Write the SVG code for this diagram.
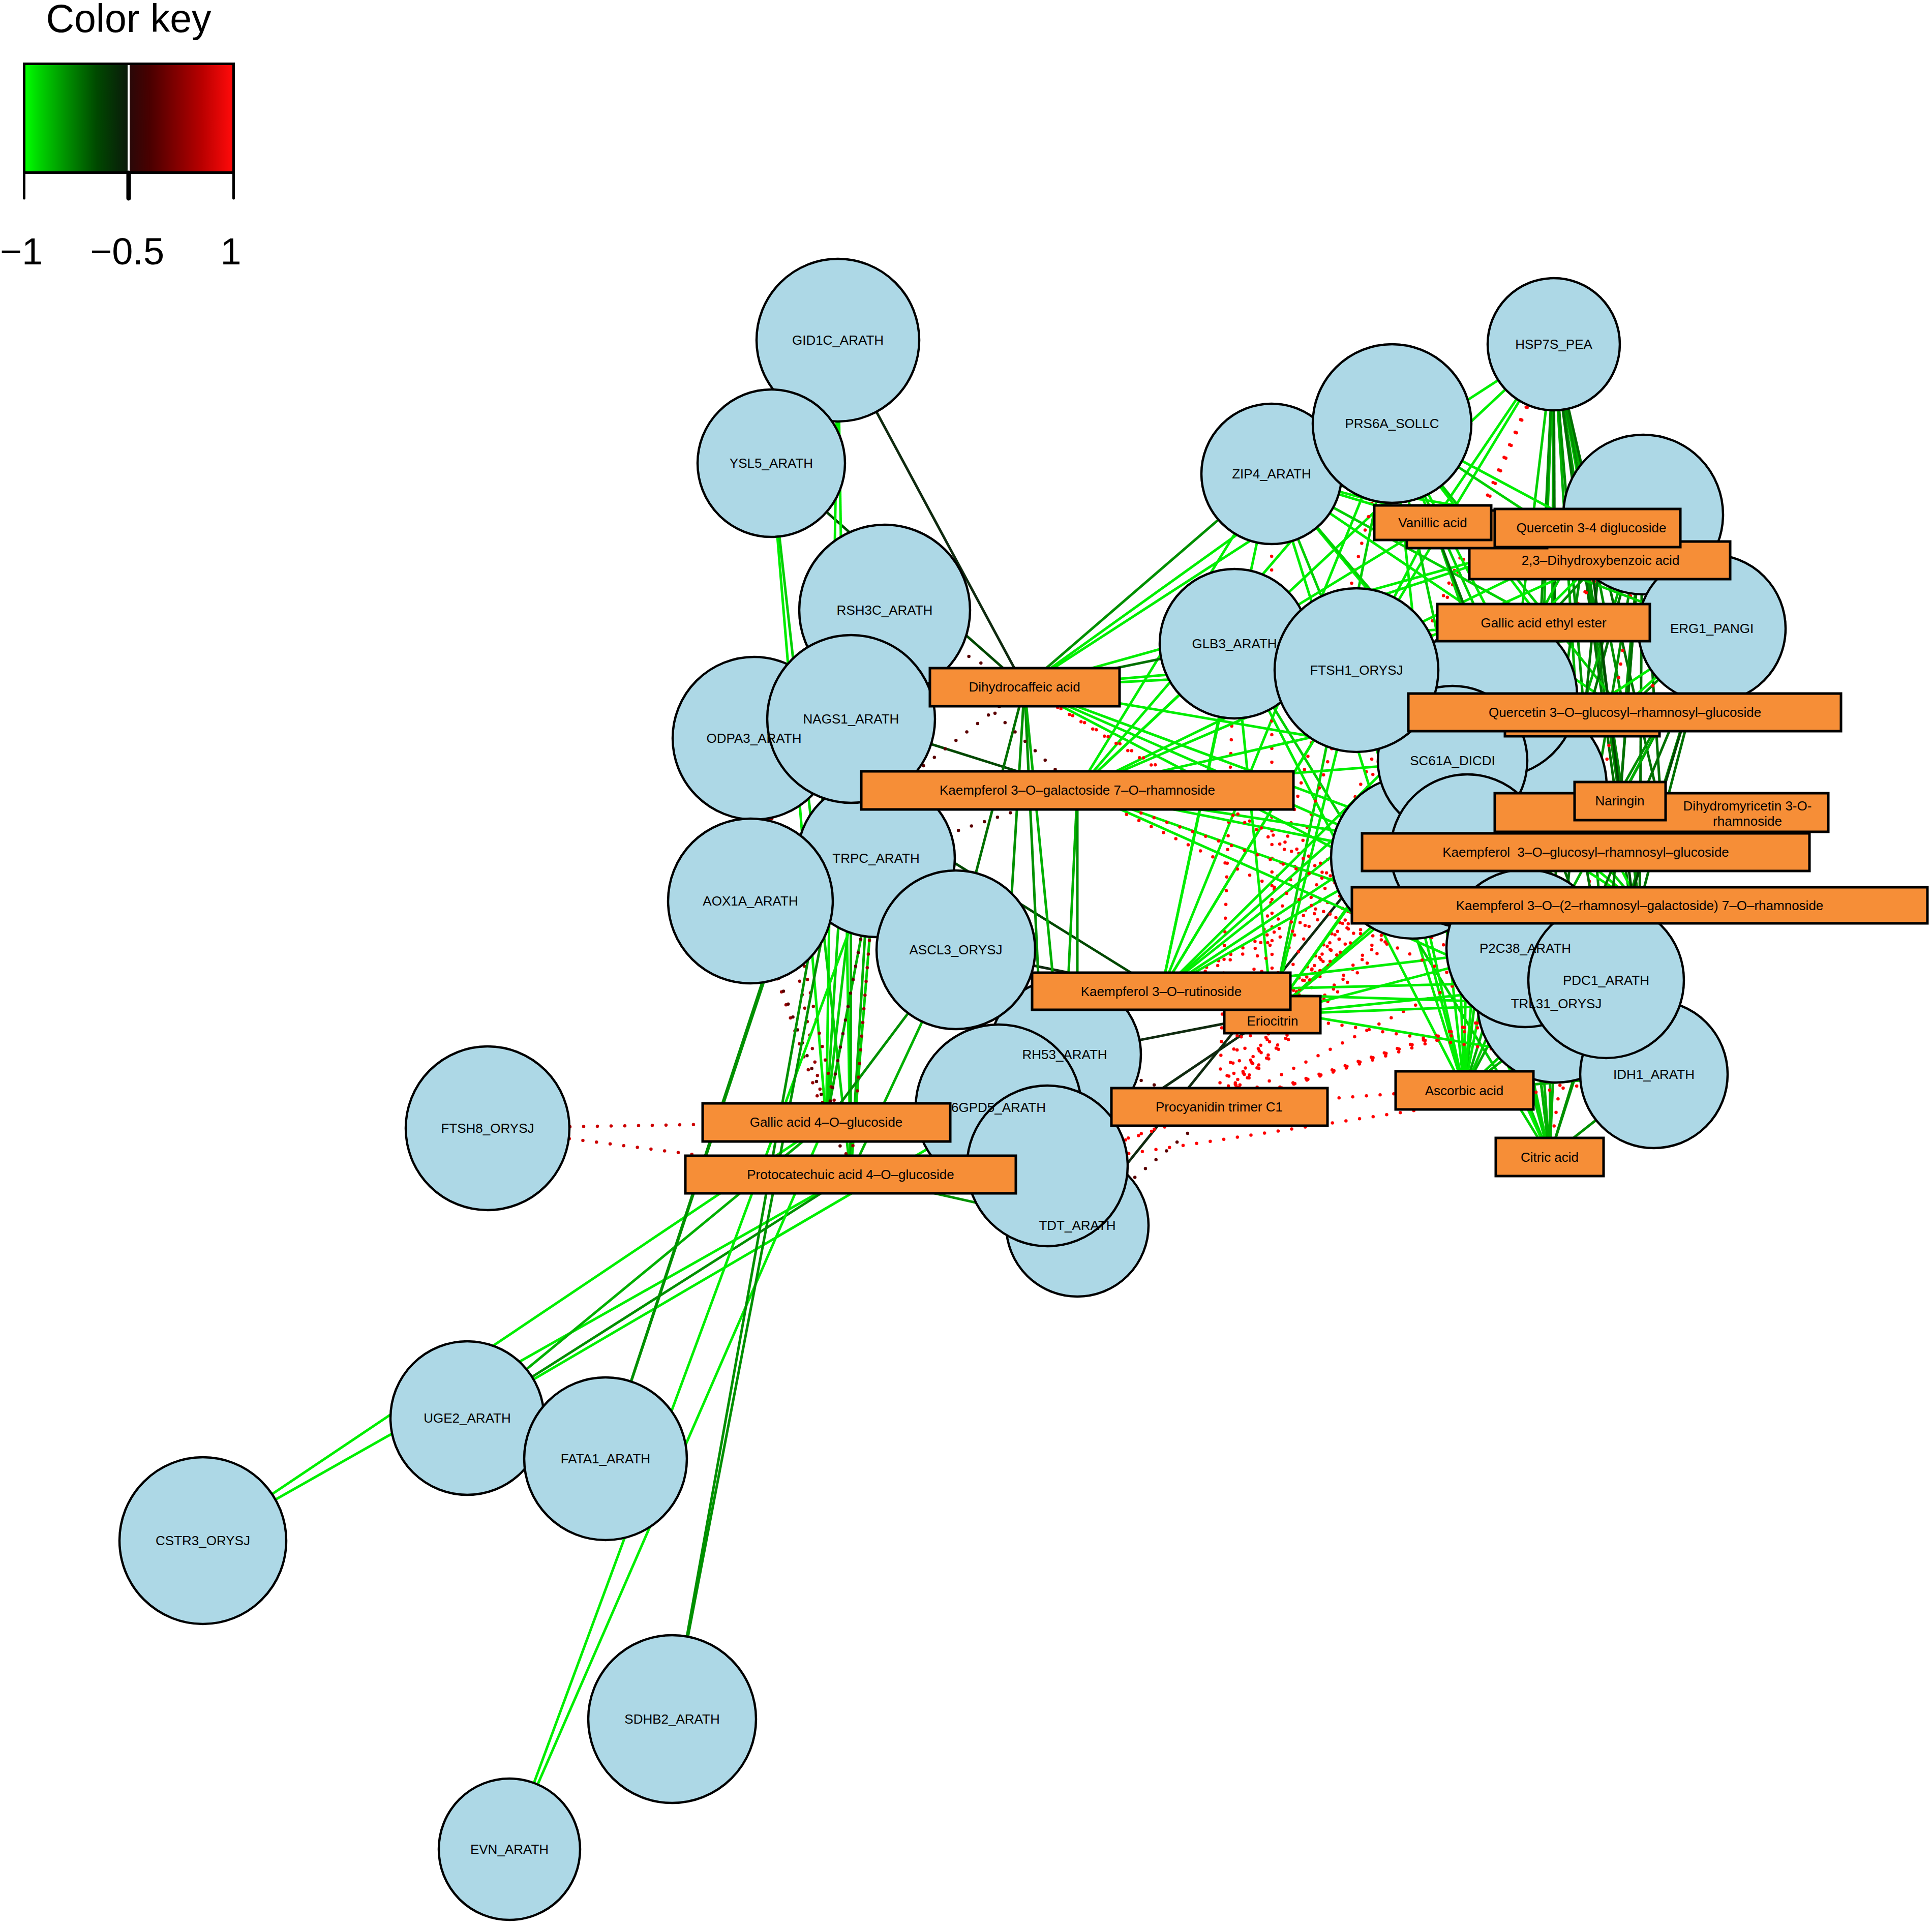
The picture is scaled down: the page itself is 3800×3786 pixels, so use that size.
<svg xmlns="http://www.w3.org/2000/svg" width="3800" height="3786" viewBox="0 0 3800 3786">
<defs>
<linearGradient id="kg" x1="0" y1="0" x2="1" y2="0">
<stop offset="0" stop-color="#00ff00"/><stop offset="0.15" stop-color="#00d000"/><stop offset="0.4" stop-color="#009000"/><stop offset="0.7" stop-color="#004800"/><stop offset="1" stop-color="#0a1a0a"/>
</linearGradient>
<linearGradient id="kr" x1="0" y1="0" x2="1" y2="0">
<stop offset="0" stop-color="#2a0808"/><stop offset="0.2" stop-color="#4a0000"/><stop offset="0.45" stop-color="#800000"/><stop offset="0.7" stop-color="#b80000"/><stop offset="1" stop-color="#ff0a0a"/>
</linearGradient>
</defs>
<style>
#edges line{stroke-width:5;fill:none}
#edges line.d{stroke-width:6.5;stroke-dasharray:0 27;stroke-linecap:round}
.g1{stroke:#00ee00}.g2{stroke:#00d000}.g3{stroke:#00b000}.g4{stroke:#009000}.g5{stroke:#007000}.g6{stroke:#004800}.g7{stroke:#0f2a0f}
.r1{stroke:#ff0000}.r2{stroke:#cc0000}.r3{stroke:#990000}.r4{stroke:#5a0000}
.p circle{fill:#add8e6;stroke:#000;stroke-width:4.5}
.m rect{fill:#f68e37;stroke:#000;stroke-width:5}
text{font-family:"Liberation Sans",Arial,Helvetica,sans-serif;font-size:26px;fill:#000;text-anchor:middle}
.key text{font-size:74px}
</style>
<rect width="3800" height="3786" fill="#fff"/>
<g id="color-key" class="key">
<text x="253" y="63" style="font-size:77px">Color key</text>
<rect x="50" y="128" width="201" height="209" fill="url(#kg)"/>
<rect x="255" y="128" width="202" height="209" fill="url(#kr)"/>
<rect x="47.5" y="125.5" width="412" height="214" fill="none" stroke="#000" stroke-width="5"/>
<g stroke="#000" stroke-linecap="round">
<line x1="47.5" y1="340" x2="47.5" y2="390" stroke-width="5"/>
<line x1="253" y1="340" x2="253" y2="390" stroke-width="9"/>
<line x1="459.5" y1="340" x2="459.5" y2="390" stroke-width="5"/>
</g>
<text x="42" y="520">−1</text>
<text x="250" y="520">−0.5</text>
<text x="454" y="520">1</text>
</g>
<g id="edges">
<line class="g7" x1="1648" y1="669" x2="2015" y2="1351"/>
<line class="g6" x1="1517" y1="911" x2="2015" y2="1351"/>
<line class="g1" x1="1648" y1="669" x2="1625" y2="2207"/>
<line class="g1" x1="1648" y1="669" x2="1673" y2="2310"/>
<line class="g1" x1="1517" y1="911" x2="1625" y2="2207"/>
<line class="g2" x1="1517" y1="911" x2="1673" y2="2310"/>
<line class="g2" x1="1740" y1="1200" x2="1625" y2="2207"/>
<line class="g3" x1="1740" y1="1200" x2="1673" y2="2310"/>
<line class="g2" x1="1674" y1="1414" x2="1625" y2="2207"/>
<line class="g3" x1="1674" y1="1414" x2="1673" y2="2310"/>
<line class="g3" x1="1723" y1="1688" x2="1625" y2="2207"/>
<line class="g2" x1="1723" y1="1688" x2="1673" y2="2310"/>
<line class="g6" x1="1674" y1="1414" x2="2119" y2="1554"/>
<line class="g6" x1="1483" y1="1452" x2="2284" y2="1950"/>
<line class="g7" x1="1880" y1="1868" x2="2284" y2="1950"/>
<line class="g4" x1="1625" y1="2207" x2="1880" y2="1868"/>
<line class="g3" x1="1673" y1="2310" x2="1880" y2="1868"/>
<line class="g4" x1="1673" y1="2310" x2="2119" y2="2410"/>
<line class="g5" x1="2015" y1="1351" x2="1880" y2="1868"/>
<line class="g4" x1="2015" y1="1351" x2="1964" y2="2178"/>
<line class="g4" x1="2015" y1="1351" x2="2060" y2="2293"/>
<line class="g3" x1="2015" y1="1351" x2="2119" y2="2410"/>
<line class="g3" x1="2119" y1="1554" x2="2094" y2="2074"/>
<line class="g4" x1="2119" y1="1554" x2="2119" y2="2410"/>
<line class="g7" x1="2094" y1="2074" x2="2502" y2="1995"/>
<line class="g7" x1="2857" y1="1496" x2="2119" y2="2410"/>
<line class="g7" x1="2502" y1="1995" x2="2060" y2="2293"/>
<line class="g4" x1="1625" y1="2207" x2="1964" y2="2178"/>
<line class="d r3" x1="1483" y1="1452" x2="1625" y2="2207"/>
<line class="d r3" x1="1483" y1="1452" x2="1673" y2="2310"/>
<line class="d r3" x1="1476" y1="1772" x2="1625" y2="2207"/>
<line class="d r4" x1="1476" y1="1772" x2="1673" y2="2310"/>
<line class="d r4" x1="1723" y1="1688" x2="1625" y2="2207"/>
<line class="d r3" x1="1723" y1="1688" x2="1673" y2="2310"/>
<line class="d r4" x1="1740" y1="1200" x2="2015" y2="1351"/>
<line class="d r4" x1="1740" y1="1200" x2="2119" y2="1554"/>
<line class="d r4" x1="1476" y1="1772" x2="2015" y2="1351"/>
<line class="d r4" x1="1476" y1="1772" x2="2119" y2="1554"/>
<line class="d r4" x1="2398" y1="2177" x2="2119" y2="2410"/>
<line class="d r4" x1="2398" y1="2177" x2="2094" y2="2074"/>
<line class="d r1" x1="2398" y1="2177" x2="2060" y2="2293"/>
<line class="d r2" x1="2398" y1="2177" x2="1964" y2="2178"/>
<line class="d r2" x1="959" y1="2219" x2="1625" y2="2207"/>
<line class="d r2" x1="959" y1="2219" x2="1673" y2="2310"/>
<line class="g1" x1="399" y1="3030" x2="1625" y2="2207"/>
<line class="g1" x1="399" y1="3030" x2="1673" y2="2310"/>
<line class="g3" x1="919" y1="2789" x2="1625" y2="2207"/>
<line class="g4" x1="919" y1="2789" x2="1673" y2="2310"/>
<line class="g1" x1="919" y1="2789" x2="1964" y2="2178"/>
<line class="g4" x1="1191" y1="2869" x2="1674" y2="1414"/>
<line class="g4" x1="1191" y1="2869" x2="1740" y2="1200"/>
<line class="g1" x1="1002" y1="3637" x2="1723" y2="1688"/>
<line class="g1" x1="1002" y1="3637" x2="1625" y2="2207"/>
<line class="g4" x1="1322" y1="3381" x2="1740" y2="1200"/>
<line class="g4" x1="1322" y1="3381" x2="1674" y2="1414"/>
<line class="g1" x1="3056" y1="677" x2="2818" y2="1028"/>
<line class="g2" x1="3056" y1="677" x2="3122" y2="1038"/>
<line class="g3" x1="3056" y1="677" x2="3146" y2="1101"/>
<line class="g3" x1="3056" y1="677" x2="3036" y2="1224"/>
<line class="g4" x1="3056" y1="677" x2="3195" y2="1401"/>
<line class="g4" x1="3056" y1="677" x2="3186" y2="1575"/>
<line class="g5" x1="3056" y1="677" x2="3268" y2="1598"/>
<line class="g3" x1="3056" y1="677" x2="3119" y2="1676"/>
<line class="g4" x1="3056" y1="677" x2="3225" y2="1780"/>
<line class="g2" x1="3056" y1="677" x2="2880" y2="2144"/>
<line class="g3" x1="3056" y1="677" x2="3048" y2="2275"/>
<line class="g1" x1="3056" y1="677" x2="2015" y2="1351"/>
<line class="g1" x1="3056" y1="677" x2="2119" y2="1554"/>
<line class="g1" x1="3056" y1="677" x2="2284" y2="1950"/>
<line class="d r1" x1="3056" y1="677" x2="2502" y2="1995"/>
<line class="d r1" x1="3056" y1="677" x2="2398" y2="2177"/>
<line class="g4" x1="3056" y1="677" x2="3000" y2="1865"/>
<line class="g4" x1="3056" y1="677" x2="3159" y2="1928"/>
<line class="g5" x1="3056" y1="677" x2="3061" y2="1974"/>
<line class="g5" x1="3056" y1="677" x2="3253" y2="2113"/>
<line class="g1" x1="2738" y1="833" x2="2818" y2="1028"/>
<line class="g1" x1="2738" y1="833" x2="3122" y2="1038"/>
<line class="g2" x1="2738" y1="833" x2="3146" y2="1101"/>
<line class="g1" x1="2738" y1="833" x2="3036" y2="1224"/>
<line class="g2" x1="2738" y1="833" x2="3195" y2="1401"/>
<line class="g2" x1="2738" y1="833" x2="3119" y2="1676"/>
<line class="g1" x1="2738" y1="833" x2="3225" y2="1780"/>
<line class="g1" x1="2738" y1="833" x2="2880" y2="2144"/>
<line class="g2" x1="2738" y1="833" x2="3048" y2="2275"/>
<line class="g1" x1="2738" y1="833" x2="2015" y2="1351"/>
<line class="g1" x1="2738" y1="833" x2="2119" y2="1554"/>
<line class="g1" x1="2738" y1="833" x2="2284" y2="1950"/>
<line class="g2" x1="2738" y1="833" x2="2502" y2="1995"/>
<line class="d r1" x1="2738" y1="833" x2="2398" y2="2177"/>
<line class="g1" x1="2501" y1="932" x2="2818" y2="1028"/>
<line class="g1" x1="2501" y1="932" x2="3122" y2="1038"/>
<line class="g1" x1="2501" y1="932" x2="3146" y2="1101"/>
<line class="g2" x1="2501" y1="932" x2="3036" y2="1224"/>
<line class="g1" x1="2501" y1="932" x2="3195" y2="1401"/>
<line class="g1" x1="2501" y1="932" x2="3119" y2="1676"/>
<line class="g2" x1="2501" y1="932" x2="3225" y2="1780"/>
<line class="g4" x1="2501" y1="932" x2="2015" y2="1351"/>
<line class="g1" x1="2501" y1="932" x2="2119" y2="1554"/>
<line class="g1" x1="2501" y1="932" x2="2284" y2="1950"/>
<line class="d r1" x1="2501" y1="932" x2="2502" y2="1995"/>
<line class="g1" x1="2501" y1="932" x2="2880" y2="2144"/>
<line class="g2" x1="2501" y1="932" x2="3048" y2="2275"/>
<line class="g5" x1="2428" y1="1266" x2="2015" y2="1351"/>
<line class="g1" x1="2428" y1="1266" x2="2119" y2="1554"/>
<line class="g1" x1="2428" y1="1266" x2="2284" y2="1950"/>
<line class="g1" x1="2428" y1="1266" x2="2502" y2="1995"/>
<line class="d r1" x1="2428" y1="1266" x2="2398" y2="2177"/>
<line class="g1" x1="2428" y1="1266" x2="2818" y2="1028"/>
<line class="g1" x1="2428" y1="1266" x2="3122" y2="1038"/>
<line class="g1" x1="2428" y1="1266" x2="3036" y2="1224"/>
<line class="g1" x1="2428" y1="1266" x2="3195" y2="1401"/>
<line class="g1" x1="2428" y1="1266" x2="3225" y2="1780"/>
<line class="g1" x1="2428" y1="1266" x2="2880" y2="2144"/>
<line class="g2" x1="2428" y1="1266" x2="3048" y2="2275"/>
<line class="g1" x1="2428" y1="1266" x2="3119" y2="1676"/>
<line class="g1" x1="2668" y1="1318" x2="2015" y2="1351"/>
<line class="g1" x1="2668" y1="1318" x2="2119" y2="1554"/>
<line class="g1" x1="2668" y1="1318" x2="2284" y2="1950"/>
<line class="g1" x1="2668" y1="1318" x2="2502" y2="1995"/>
<line class="d r1" x1="2668" y1="1318" x2="2398" y2="2177"/>
<line class="g1" x1="2668" y1="1318" x2="2818" y2="1028"/>
<line class="g1" x1="2668" y1="1318" x2="3146" y2="1101"/>
<line class="g1" x1="2668" y1="1318" x2="3195" y2="1401"/>
<line class="g2" x1="2668" y1="1318" x2="3119" y2="1676"/>
<line class="g1" x1="2668" y1="1318" x2="3225" y2="1780"/>
<line class="g1" x1="2668" y1="1318" x2="2880" y2="2144"/>
<line class="g2" x1="2668" y1="1318" x2="3048" y2="2275"/>
<line class="g1" x1="3230" y1="1012" x2="2015" y2="1351"/>
<line class="g1" x1="3230" y1="1012" x2="2119" y2="1554"/>
<line class="g1" x1="3230" y1="1012" x2="2284" y2="1950"/>
<line class="g4" x1="3230" y1="1012" x2="3036" y2="1224"/>
<line class="g4" x1="3230" y1="1012" x2="3195" y2="1401"/>
<line class="g5" x1="3230" y1="1012" x2="3186" y2="1575"/>
<line class="g5" x1="3230" y1="1012" x2="3268" y2="1598"/>
<line class="g4" x1="3230" y1="1012" x2="3119" y2="1676"/>
<line class="g5" x1="3230" y1="1012" x2="3225" y2="1780"/>
<line class="g3" x1="3230" y1="1012" x2="2880" y2="2144"/>
<line class="d r1" x1="3230" y1="1012" x2="3048" y2="2275"/>
<line class="d r1" x1="3230" y1="1012" x2="2398" y2="2177"/>
<line class="d r1" x1="3230" y1="1012" x2="2502" y2="1995"/>
<line class="g5" x1="3230" y1="1012" x2="3159" y2="1928"/>
<line class="g5" x1="3230" y1="1012" x2="3000" y2="1865"/>
<line class="g2" x1="3367" y1="1236" x2="2818" y2="1028"/>
<line class="g3" x1="3367" y1="1236" x2="3122" y2="1038"/>
<line class="g2" x1="3367" y1="1236" x2="3036" y2="1224"/>
<line class="g4" x1="3367" y1="1236" x2="3195" y2="1401"/>
<line class="g5" x1="3367" y1="1236" x2="3186" y2="1575"/>
<line class="g4" x1="3367" y1="1236" x2="3119" y2="1676"/>
<line class="g5" x1="3367" y1="1236" x2="3225" y2="1780"/>
<line class="g3" x1="3367" y1="1236" x2="2880" y2="2144"/>
<line class="g4" x1="3367" y1="1236" x2="3048" y2="2275"/>
<line class="g1" x1="3367" y1="1236" x2="2284" y2="1950"/>
<line class="g1" x1="3367" y1="1236" x2="2502" y2="1995"/>
<line class="g1" x1="3367" y1="1236" x2="2015" y2="1351"/>
<line class="d r1" x1="3367" y1="1236" x2="2398" y2="2177"/>
<line class="g6" x1="3367" y1="1236" x2="3159" y2="1928"/>
<line class="g5" x1="3367" y1="1236" x2="3061" y2="1974"/>
<line class="g1" x1="2942" y1="1368" x2="2818" y2="1028"/>
<line class="g2" x1="2942" y1="1368" x2="3122" y2="1038"/>
<line class="g1" x1="2942" y1="1368" x2="2119" y2="1554"/>
<line class="g1" x1="2942" y1="1368" x2="2284" y2="1950"/>
<line class="g1" x1="2942" y1="1368" x2="2502" y2="1995"/>
<line class="g1" x1="2942" y1="1368" x2="2880" y2="2144"/>
<line class="g2" x1="2942" y1="1368" x2="3048" y2="2275"/>
<line class="d r1" x1="2942" y1="1368" x2="2398" y2="2177"/>
<line class="g1" x1="2857" y1="1496" x2="2015" y2="1351"/>
<line class="g1" x1="2857" y1="1496" x2="2119" y2="1554"/>
<line class="g1" x1="2857" y1="1496" x2="2284" y2="1950"/>
<line class="g1" x1="2857" y1="1496" x2="2502" y2="1995"/>
<line class="g1" x1="2857" y1="1496" x2="2880" y2="2144"/>
<line class="g2" x1="2857" y1="1496" x2="3048" y2="2275"/>
<line class="d r1" x1="2857" y1="1496" x2="2398" y2="2177"/>
<line class="g2" x1="2857" y1="1496" x2="3036" y2="1224"/>
<line class="g1" x1="2778" y1="1686" x2="2015" y2="1351"/>
<line class="g1" x1="2778" y1="1686" x2="2119" y2="1554"/>
<line class="d r1" x1="2778" y1="1686" x2="2284" y2="1950"/>
<line class="d r1" x1="2778" y1="1686" x2="2502" y2="1995"/>
<line class="d r1" x1="2778" y1="1686" x2="2398" y2="2177"/>
<line class="g1" x1="2778" y1="1686" x2="2880" y2="2144"/>
<line class="g1" x1="2778" y1="1686" x2="3048" y2="2275"/>
<line class="g1" x1="2886" y1="1674" x2="2015" y2="1351"/>
<line class="g1" x1="2886" y1="1674" x2="2119" y2="1554"/>
<line class="d r1" x1="2886" y1="1674" x2="2284" y2="1950"/>
<line class="g1" x1="2886" y1="1674" x2="2502" y2="1995"/>
<line class="d r1" x1="2886" y1="1674" x2="2398" y2="2177"/>
<line class="g1" x1="2886" y1="1674" x2="2880" y2="2144"/>
<line class="g2" x1="2886" y1="1674" x2="3048" y2="2275"/>
<line class="g2" x1="2995" y1="1545" x2="2818" y2="1028"/>
<line class="g1" x1="2995" y1="1545" x2="2284" y2="1950"/>
<line class="d r1" x1="2995" y1="1545" x2="2502" y2="1995"/>
<line class="d r1" x1="2995" y1="1545" x2="2398" y2="2177"/>
<line class="g1" x1="2995" y1="1545" x2="2880" y2="2144"/>
<line class="g3" x1="2995" y1="1545" x2="3048" y2="2275"/>
<line class="g1" x1="3000" y1="1865" x2="2015" y2="1351"/>
<line class="g1" x1="3000" y1="1865" x2="2119" y2="1554"/>
<line class="g1" x1="3000" y1="1865" x2="2284" y2="1950"/>
<line class="g1" x1="3000" y1="1865" x2="2502" y2="1995"/>
<line class="d r1" x1="3000" y1="1865" x2="2398" y2="2177"/>
<line class="g2" x1="3000" y1="1865" x2="2880" y2="2144"/>
<line class="g3" x1="3000" y1="1865" x2="3048" y2="2275"/>
<line class="g4" x1="3000" y1="1865" x2="3122" y2="1038"/>
<line class="g1" x1="3061" y1="1974" x2="2284" y2="1950"/>
<line class="g1" x1="3061" y1="1974" x2="2502" y2="1995"/>
<line class="d r1" x1="3061" y1="1974" x2="2398" y2="2177"/>
<line class="g2" x1="3061" y1="1974" x2="2880" y2="2144"/>
<line class="g3" x1="3061" y1="1974" x2="3048" y2="2275"/>
<line class="g1" x1="3061" y1="1974" x2="2119" y2="1554"/>
<line class="d r1" x1="3061" y1="1974" x2="2015" y2="1351"/>
<line class="g5" x1="3061" y1="1974" x2="3146" y2="1101"/>
<line class="g1" x1="3159" y1="1928" x2="2284" y2="1950"/>
<line class="g1" x1="3159" y1="1928" x2="2502" y2="1995"/>
<line class="d r1" x1="3159" y1="1928" x2="2398" y2="2177"/>
<line class="d r1" x1="3159" y1="1928" x2="2119" y2="1554"/>
<line class="g3" x1="3159" y1="1928" x2="2880" y2="2144"/>
<line class="g4" x1="3159" y1="1928" x2="3048" y2="2275"/>
<line class="g5" x1="3159" y1="1928" x2="2818" y2="1028"/>
<line class="g5" x1="3159" y1="1928" x2="3036" y2="1224"/>
<line class="g1" x1="3253" y1="2113" x2="2284" y2="1950"/>
<line class="d r1" x1="3253" y1="2113" x2="2398" y2="2177"/>
<line class="d r1" x1="3253" y1="2113" x2="2502" y2="1995"/>
<line class="d r1" x1="3253" y1="2113" x2="2015" y2="1351"/>
<line class="g3" x1="3253" y1="2113" x2="2880" y2="2144"/>
<line class="g4" x1="3253" y1="2113" x2="3048" y2="2275"/>
<line class="g6" x1="3253" y1="2113" x2="3122" y2="1038"/>
<line class="d r1" x1="2060" y1="2293" x2="3253" y2="2113"/>
<line class="d r1" x1="2060" y1="2293" x2="3159" y2="1928"/>
<line class="d r1" x1="2119" y1="1554" x2="3253" y2="2113"/>
</g>
<g id="proteins" class="p">
<g id="node-GID1C_ARATH"><circle cx="1648" cy="669" r="160"/></g>
<g id="node-YSL5_ARATH"><circle cx="1517" cy="911" r="145"/></g>
<g id="node-RSH3C_ARATH"><circle cx="1740" cy="1200" r="168"/></g>
<g id="node-ODPA3_ARATH"><circle cx="1483" cy="1452" r="160"/></g>
<g id="node-TRPC_ARATH"><circle cx="1723" cy="1688" r="155"/></g>
<g id="node-NAGS1_ARATH"><circle cx="1674" cy="1414" r="165"/></g>
<g id="node-AOX1A_ARATH"><circle cx="1476" cy="1772" r="162"/></g>
<g id="node-RH53_ARATH"><circle cx="2094" cy="2074" r="150"/></g>
<g id="node-ASCL3_ORYSJ"><circle cx="1880" cy="1868" r="156"/></g>
<g id="node-G6PD5_ARATH"><circle cx="1964" cy="2178" r="163"/></g>
<g id="node-TDT_ARATH"><circle cx="2119" cy="2410" r="140"/></g>
<g id="node-unlabeled-1"><circle cx="2060" cy="2293" r="158"/></g>
<g id="node-FTSH8_ORYSJ"><circle cx="959" cy="2219" r="161"/></g>
<g id="node-UGE2_ARATH"><circle cx="919" cy="2789" r="151"/></g>
<g id="node-FATA1_ARATH"><circle cx="1191" cy="2869" r="160"/></g>
<g id="node-CSTR3_ORYSJ"><circle cx="399" cy="3030" r="164"/></g>
<g id="node-SDHB2_ARATH"><circle cx="1322" cy="3381" r="165"/></g>
<g id="node-EVN_ARATH"><circle cx="1002" cy="3637" r="139"/></g>
<g id="node-HSP7S_PEA"><circle cx="3056" cy="677" r="130"/></g>
<g id="node-ZIP4_ARATH"><circle cx="2501" cy="932" r="138"/></g>
<g id="node-PRS6A_SOLLC"><circle cx="2738" cy="833" r="156"/></g>
<g id="node-hidden-1"><circle cx="3232" cy="1012" r="157"/></g>
<g id="node-ERG1_PANGI"><circle cx="3367" cy="1236" r="145"/></g>
<g id="node-GLB3_ARATH"><circle cx="2428" cy="1266" r="147"/></g>
<g id="node-hidden-2"><circle cx="2778" cy="1686" r="160"/></g>
<g id="node-hidden-3"><circle cx="2995" cy="1545" r="165"/></g>
<g id="node-hidden-4"><circle cx="2942" cy="1368" r="160"/></g>
<g id="node-SC61A_DICDI"><circle cx="2857" cy="1496" r="147"/></g>
<g id="node-hidden-5"><circle cx="2886" cy="1674" r="151"/></g>
<g id="node-FTSH1_ORYSJ"><circle cx="2668" cy="1318" r="161"/></g>
<g id="node-TRL31_ORYSJ"><circle cx="3061" cy="1974" r="155"/></g>
<g id="node-IDH1_ARATH"><circle cx="3253" cy="2113" r="145"/></g>
<g id="node-P2C38_ARATH"><circle cx="3000" cy="1865" r="155"/></g>
<g id="node-PDC1_ARATH"><circle cx="3159" cy="1928" r="153"/></g>
</g>
<g id="protein-labels">
<text x="1648" y="678">GID1C_ARATH</text>
<text x="1517" y="920">YSL5_ARATH</text>
<text x="1740" y="1209">RSH3C_ARATH</text>
<text x="1483" y="1461">ODPA3_ARATH</text>
<text x="1723" y="1697">TRPC_ARATH</text>
<text x="1674" y="1423">NAGS1_ARATH</text>
<text x="1476" y="1781">AOX1A_ARATH</text>
<text x="2094" y="2083">RH53_ARATH</text>
<text x="1880" y="1877">ASCL3_ORYSJ</text>
<text x="1964" y="2187">6GPD5_ARATH</text>
<text x="2119" y="2419">TDT_ARATH</text>
<text x="959" y="2228">FTSH8_ORYSJ</text>
<text x="919" y="2798">UGE2_ARATH</text>
<text x="1191" y="2878">FATA1_ARATH</text>
<text x="399" y="3039">CSTR3_ORYSJ</text>
<text x="1322" y="3390">SDHB2_ARATH</text>
<text x="1002" y="3646">EVN_ARATH</text>
<text x="3056" y="686">HSP7S_PEA</text>
<text x="2501" y="941">ZIP4_ARATH</text>
<text x="2738" y="842">PRS6A_SOLLC</text>
<text x="3367" y="1245">ERG1_PANGI</text>
<text x="2428" y="1275">GLB3_ARATH</text>
<text x="2857" y="1505">SC61A_DICDI</text>
<text x="2668" y="1327">FTSH1_ORYSJ</text>
<text x="3061" y="1983">TRL31_ORYSJ</text>
<text x="3253" y="2122">IDH1_ARATH</text>
<text x="3000" y="1874">P2C38_ARATH</text>
<text x="3159" y="1937">PDC1_ARATH</text>
</g>
<g id="metabolites" class="m">
<g id="node-Gallic_acid_4-O-glucoside"><rect x="1382" y="2170" width="487" height="75"/><text x="1625" y="2216">Gallic acid 4–O–glucoside</text></g>
<g id="node-Protocatechuic_acid_4-O-glucoside"><rect x="1348" y="2273" width="650" height="74"/><text x="1673" y="2319">Protocatechuic acid 4–O–glucoside</text></g>
<g id="node-Dihydrocaffeic_acid"><rect x="1829" y="1314" width="373" height="75"/><text x="2015" y="1360">Dihydrocaffeic acid</text></g>
<g id="node-Kaempferol_3-O-galactoside_7-O-rhamnoside"><rect x="1694" y="1517" width="850" height="75"/><text x="2119" y="1563">Kaempferol 3–O–galactoside 7–O–rhamnoside</text></g>
<g id="node-Eriocitrin"><rect x="2408" y="1959" width="189" height="73"/><text x="2503" y="2017">Eriocitrin</text></g>
<g id="node-Kaempferol_3-O-rutinoside"><rect x="2030" y="1913" width="508" height="73"/><text x="2284" y="1959">Kaempferol 3–O–rutinoside</text></g>
<g id="node-Procyanidin_trimer_C1"><rect x="2186" y="2140" width="425" height="74"/><text x="2398" y="2186">Procyanidin trimer C1</text></g>
<g id="node-Ascorbic_acid"><rect x="2745" y="2107" width="271" height="75"/><text x="2880" y="2154">Ascorbic acid</text></g>
<g id="node-Citric_acid"><rect x="2942" y="2238" width="212" height="75"/><text x="3048" y="2285">Citric acid</text></g>
<g id="node-2_3-Dihydroxybenzoic_acid"><rect x="2890" y="1065" width="513" height="74"/><text x="3148" y="1111">2,3–Dihydroxybenzoic acid</text></g>
<g id="node-hidden-box-1"><rect x="2767" y="1004" width="276" height="74"/></g>
<g id="node-Quercetin_3-4_diglucoside"><rect x="2940" y="1001" width="365" height="75"/><text x="3130" y="1047">Quercetin 3-4 diglucoside</text></g>
<g id="node-Vanillic_acid"><rect x="2703" y="994" width="230" height="68"/><text x="2818" y="1037">Vanillic acid</text></g>
<g id="node-Gallic_acid_ethyl_ester"><rect x="2827" y="1188" width="418" height="73"/><text x="3036" y="1234">Gallic acid ethyl ester</text></g>
<g id="node-hidden-box-2"><rect x="2960" y="1374" width="304" height="74"/></g>
<g id="node-Quercetin_3-O-glucosyl-rhamnosyl-glucoside"><rect x="2770" y="1364" width="851" height="74"/><text x="3196" y="1410">Quercetin 3–O–glucosyl–rhamnosyl–glucoside</text></g>
<g id="node-Dihydromyricetin_3-O-rhamnoside"><rect x="2940" y="1560" width="656" height="76"/><text x="3437" y="1594">Dihydromyricetin 3-O-</text><text x="3437" y="1624">rhamnoside</text></g>
<g id="node-Naringin"><rect x="3097" y="1538" width="179" height="75"/><text x="3186" y="1584">Naringin</text></g>
<g id="node-Kaempferol_3-O-glucosyl-rhamnosyl-glucoside"><rect x="2679" y="1639" width="880" height="74"/><text x="3119" y="1685" style="white-space:pre">Kaempferol  3–O–glucosyl–rhamnosyl–glucoside</text></g>
<g id="node-Kaempferol_3-O-2-rhamnosyl-galactoside_7-O-rhamnoside"><rect x="2659" y="1745" width="1132" height="71"/><text x="3225" y="1790">Kaempferol 3–O–(2–rhamnosyl–galactoside) 7–O–rhamnoside</text></g>
</g>
</svg>
